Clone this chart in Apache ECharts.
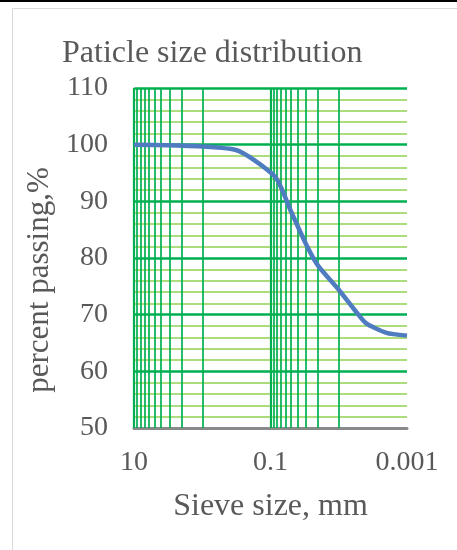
<!DOCTYPE html>
<html>
<head>
<meta charset="utf-8">
<script src="https://cdn.jsdelivr.net/npm/echarts@6/dist/echarts.min.js"></script>
<style>
  html, body { margin: 0; padding: 0; background: #fff; }
  #chart { width: 457px; height: 550px; }
</style>
</head>
<body>
<div id="chart"></div>
<script>
// 粒径 (mm) 与通过率 (%)
var sieveSize = [10, 0.33, 0.085, 0.05, 0.03, 0.02, 0.01, 0.006, 0.004, 0.002, 0.001];
var passing   = [100, 99.1, 94.3, 88.2, 82.4, 78.6, 74.4, 71.0, 68.5, 66.8, 66.3];
// 竖向网格线位置
var majorX = [10, 0.1, 0.001];
var minorX = [9, 8, 7, 6, 5, 4, 3, 2, 1, 0.09, 0.08, 0.07, 0.06, 0.05, 0.04, 0.03, 0.02, 0.01];
var yMin = 50, yMax = 110, yStep = 10;

var chart = echarts.init(document.getElementById('chart'));
var green = '#00B050';
var lightGreen = '#92D050';
var textColor = '#595959';
var serif = '"Liberation Serif", "Times New Roman", serif';

var vLines = [];
minorX.forEach(function (v) {
    vLines.push({xAxis: v, lineStyle: {color: green, width: 1.7, type: 'solid'}});
});
majorX.forEach(function (v) {
    vLines.push({xAxis: v, lineStyle: {color: green, width: 2.2, type: 'solid'}});
});

var option = {
    animation: false,
    title: {
        text: 'Paticle size distribution',
        left: 57,
        top: 33,
        textStyle: {fontFamily: serif, fontWeight: 'normal', fontSize: 32, color: textColor}
    },
    grid: {left: 134, right: 50, top: 88, bottom: 122},
    graphic: [
        {type: 'rect', shape: {x: 12.5, y: 8.5, width: 460, height: 560},
         style: {fill: 'none', stroke: '#D9D9D9', lineWidth: 1}},
        {type: 'rect', shape: {x: 0, y: 0, width: 457, height: 2}, style: {fill: '#000'}}
    ],
    xAxis: {
        type: 'log',
        logBase: 10,
        min: 0.001,
        max: 10,
        inverse: true,
        name: 'Sieve size, mm',
        nameLocation: 'middle',
        nameGap: 63,
        nameTextStyle: {fontFamily: serif, fontSize: 32, color: textColor},
        axisLine: {show: true, lineStyle: {color: '#898989', width: 3}},
        axisTick: {show: false},
        splitLine: {show: false},
        axisLabel: {
            fontFamily: serif, fontSize: 28, color: textColor, margin: 21,
            formatter: function (v) {
                var e = Math.round(Math.log10(v));
                if (Math.abs(e) % 2 === 1) return String(v);
                return '';
            }
        }
    },
    yAxis: {
        type: 'value',
        min: yMin,
        max: yMax,
        interval: yStep,
        name: 'percent passing,%',
        nameLocation: 'middle',
        nameGap: 66,
        nameTextStyle: {fontFamily: serif, fontSize: 31, color: textColor, padding: [0, 44, 0, 0]},
        axisLine: {show: true, lineStyle: {color: '#D9D9D9', width: 2}},
        axisTick: {show: false},
        axisLabel: {fontFamily: serif, fontSize: 28, color: textColor, margin: 26},
        splitLine: {show: true, lineStyle: {color: green, width: 2.6}},
        minorTick: {show: false, splitNumber: 5},
        minorSplitLine: {show: true, lineStyle: {color: lightGreen, width: 1.6}}
    },
    series: [
        {
            type: 'line',
            data: [],
            silent: true,
            markLine: {
                silent: true,
                symbol: ['none', 'none'],
                label: {show: false},
                data: vLines
            }
        },
        {
            type: 'line',
            smooth: 0.2,
            showSymbol: false,
            data: sieveSize.map(function (s, i) { return [s, passing[i]]; }),
            lineStyle: {color: '#4F7CC0', width: 4.5},
            itemStyle: {color: '#4F7CC0'},
            z: 5
        }
    ]
};
chart.setOption(option);

window.onresize = function () {
    chart.resize();
};
</script>
</body>
</html>
